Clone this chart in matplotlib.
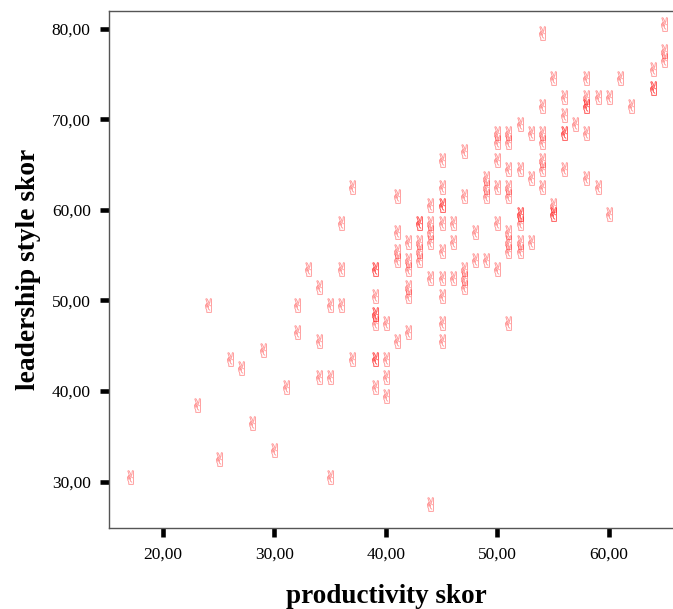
import matplotlib.pyplot as plt

# productivity skor (x) i leadership style skor (y)
productivity = [17, 23, 24, 25, 26, 27, 28, 29, 30, 31,
                32, 32, 33, 34, 34, 34, 35, 35, 35, 36, 36, 36, 37, 37,
                39, 39, 39, 39, 39, 39, 39, 39, 39,
                40, 40, 40, 40,
                41, 41, 41, 41, 41,
                42, 42, 42, 42, 42, 42,
                43, 43, 43, 43, 43,
                44, 44, 44, 44, 44, 44,
                45, 45, 45, 45, 45, 45, 45, 45, 45, 45,
                46, 46, 46,
                47, 47, 47, 47, 47,
                48, 48,
                49, 49, 49, 49,
                50, 50, 50, 50, 50, 50,
                51, 51, 51, 51, 51, 51, 51, 51, 51,
                52, 52, 52, 52, 52, 52, 52,
                53, 53, 53,
                54, 54, 54, 54, 54, 54, 54,
                55, 55, 55, 55,
                56, 56, 56, 56, 56,
                57,
                58, 58, 58, 58, 58, 58,
                59, 59, 60, 60, 61, 62,
                64, 64, 64,
                65, 65, 65]

leadership = [30.5, 38.5, 49.5, 32.5, 43.5, 42.5, 36.5, 44.5, 33.5, 40.5,
              49.5, 46.5, 53.5, 51.5, 45.5, 41.5, 49.5, 41.5, 30.5, 58.5, 53.5, 49.5, 62.5, 43.5,
              53.5, 53.5, 50.5, 48.5, 48.5, 47.5, 43.5, 43.5, 40.5,
              47.5, 43.5, 41.5, 39.5,
              61.5, 57.5, 55.5, 54.5, 45.5,
              56.5, 54.5, 53.5, 51.5, 50.5, 46.5,
              58.5, 58.5, 56.5, 55.5, 54.5,
              60.5, 58.5, 57.5, 56.5, 52.5, 27.5,
              65.5, 62.5, 60.5, 60.5, 58.5, 55.5, 52.5, 50.5, 47.5, 45.5,
              58.5, 56.5, 52.5,
              66.5, 61.5, 53.5, 52.5, 51.5,
              57.5, 54.5,
              63.5, 62.5, 61.5, 54.5,
              68.5, 67.5, 65.5, 62.5, 58.5, 53.5,
              68.5, 67.5, 64.5, 62.5, 61.5, 57.5, 56.5, 55.5, 47.5,
              69.5, 64.5, 59.5, 59.5, 58.5, 56.5, 55.5,
              68.5, 63.5, 56.5,
              79.5, 71.5, 68.5, 67.5, 65.5, 64.5, 62.5,
              74.5, 60.5, 59.5, 59.5,
              72.5, 70.5, 68.5, 68.5, 64.5,
              69.5,
              74.5, 72.5, 71.5, 71.5, 68.5, 63.5,
              72.5, 62.5, 72.5, 59.5, 74.5, 71.5,
              75.5, 73.5, 73.5,
              80.5, 77.5, 76.5]

x_ticks = [20, 30, 40, 50, 60]
y_ticks = [30, 40, 50, 60, 70, 80]

plt.rcParams['font.family'] = ['Liberation Serif', 'DejaVu Serif']

fig = plt.figure(figsize=(6.73, 6.09), dpi=100)
ax = fig.add_axes([0.1627, 0.1335, 0.8373, 0.8485])

# znacznik w stylu SPSS (reka "victory")
ax.scatter(productivity, leadership, marker='$\u270c$', s=105,
           color='red', edgecolors='red', alpha=0.36, linewidths=0.2)

ax.set_xlim(15.19, 65.77)
ax.set_ylim(24.92, 81.95)

ax.set_xticks(x_ticks)
ax.set_yticks(y_ticks)
ax.set_xticklabels([f'{v:.2f}'.replace('.', ',') for v in x_ticks])
ax.set_yticklabels([f'{v:.2f}'.replace('.', ',') for v in y_ticks])
ax.tick_params(direction='out', length=6.5, width=3.3, color='black',
               labelsize=12.5, pad=7)

for side in ['top', 'left', 'bottom']:
    ax.spines[side].set_color('#555555')
    ax.spines[side].set_linewidth(1.0)
ax.spines['right'].set_visible(False)

ax.set_xlabel('productivity skor', fontsize=19.5, fontweight='bold')
ax.set_ylabel('leadership style skor', fontsize=19.8, fontweight='bold')
ax.xaxis.set_label_coords(0.4907, -0.108)
ax.yaxis.set_label_coords(-0.122, 0.499)

plt.savefig('out.png', dpi=100)
